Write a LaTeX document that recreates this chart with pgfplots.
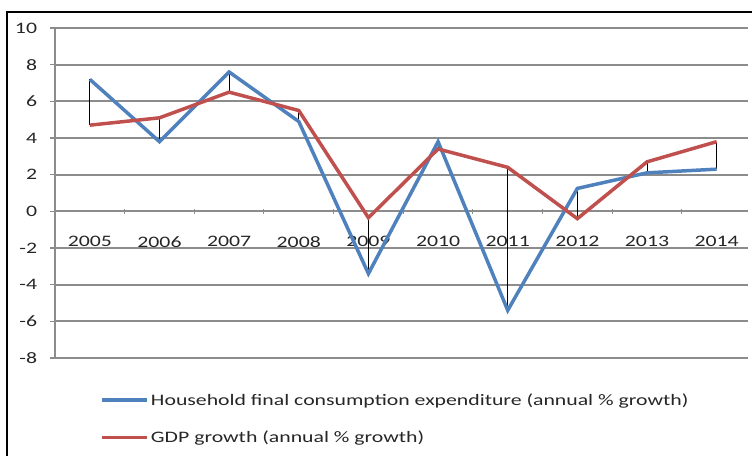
\documentclass[border=0pt]{standalone}
\usepackage{fontspec}
\setmainfont{Carlito}
\usepackage{pgfplots}
\usepackage{pgfplotstable}
\pgfplotsset{compat=1.18}
\definecolor{hblue}{HTML}{4F81BD}
\definecolor{gred}{HTML}{C0504D}
\definecolor{gridgray}{HTML}{8C8C8C}
\definecolor{txt}{HTML}{262626}
\pgfplotstableread{
x hh gdp
0 7.2 4.7
1 3.8 5.1
2 7.6 6.5
3 4.9 5.5
4 -3.4 -0.35
5 3.8 3.4
6 -5.4 2.4
7 1.25 -0.4
8 2.1 2.7
9 2.3 3.8
}\data
\begin{document}
\begin{tikzpicture}[x=1pt,y=1pt]
\draw[black, line width=1.2pt] (7,-20) -- (7,443) -- (770,443);
\begin{axis}[
  at={(55pt,97pt)}, anchor=south west,
  scale only axis, width=693pt, height=330pt,
  xmin=-0.5, xmax=9.45, ymin=-8, ymax=10,
  axis x line=middle, axis y line=left,
  axis line style={-, gridgray, line width=1.2pt},
  ytick={-8,-6,...,10},
  xtick={0,...,9},
  xticklabels={2005,2006,2007,2008,2009,2010,2011,2012,2013,2014},
  minor xtick={0.5,1.5,...,8.5},
  major x tick style={draw=none},
  minor x tick style={gridgray, line width=1pt},
  minor tick length=5pt,
  ytick style={gridgray, line width=1.2pt},
  major tick length=5pt,
  ytick pos=left, ytick align=outside,
  ymajorgrids, grid style={gridgray, line width=1.8pt},
  tick label style={font=\fontsize{16}{19}\selectfont, text=txt, xscale=1.36},
  xticklabel style={anchor=center, yshift=-28pt},
  yticklabel style={xshift=-6pt},
  /pgf/number format/assume math mode=true,
  legend style={at={(axis description cs:0.061,-0.095)}, anchor=north west, draw=none, fill=none,
    font=\fontsize{16}{19}\selectfont, text=txt, row sep=20pt, cells={anchor=west}},
  legend cell align=left,
  legend image code/.code={\draw[#1, line width=3.5pt] (0pt,0pt) -- (45pt,0pt);},
  clip=false,
]
\addplot[black, line width=1pt, forget plot, mark=none, draw=none,
  error bars/.cd, y dir=plus, y explicit, error mark=none,
  error bar style={black, line width=1pt}]
  table[x=x, y=gdp, y error expr=\thisrow{hh}-\thisrow{gdp}] {\data};
\addplot[hblue, line width=3.5pt, mark=none] table[x=x, y=hh] {\data};
\addplot[gred, line width=3.5pt, mark=none] table[x=x, y=gdp] {\data};
\legend{\scalebox{1.36}[1]{Household final consumption expenditure (annual \% growth)},
  \scalebox{1.36}[1]{GDP growth (annual \% growth)}}
\end{axis}
\pgfresetboundingbox
\useasboundingbox (0,0) rectangle (752,455);
\end{tikzpicture}
\end{document}
